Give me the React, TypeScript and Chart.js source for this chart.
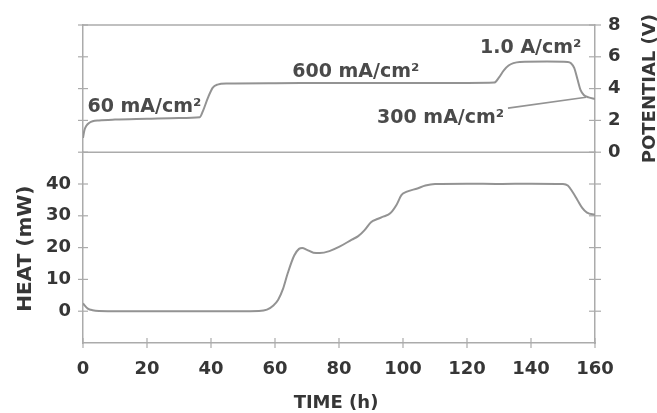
import { useEffect, useRef } from 'react';
import { Chart, registerables } from 'chart.js';

Chart.register(...registerables);

// ---- data ----
const timeTicks = [0, 20, 40, 60, 80, 100, 120, 140, 160];
const heatTicks = [0, 10, 20, 30, 40];
const potTicks = [0, 2, 4, 6, 8];

const potTime = [0, 0.4, 1, 2, 3, 5, 10, 20, 30, 36.5, 37.5, 39, 40.5, 42, 45, 60, 80, 100, 120, 128.5, 130, 131.5, 133, 134.5, 136.5, 145, 151.5, 152.5, 153.5, 154.5, 155.5, 156.5, 158, 160];
const potV = [0.9, 1.35, 1.65, 1.85, 1.95, 2.0, 2.05, 2.1, 2.15, 2.2, 2.6, 3.4, 4.05, 4.25, 4.32, 4.34, 4.35, 4.35, 4.36, 4.38, 4.7, 5.15, 5.45, 5.6, 5.68, 5.7, 5.68, 5.6, 5.3, 4.6, 3.9, 3.6, 3.45, 3.35];

const heatTime = [0, 0.5, 1.5, 3, 5, 20, 40, 55, 57.5, 59.5, 61, 62.5, 64, 66, 67.5, 68.5, 70, 72, 74, 77, 80, 84, 86, 88, 90, 92, 94, 96, 98, 99.5, 101, 104.5, 107, 110, 120, 130, 140, 150, 151.5, 153, 154.5, 156, 157.5, 160];
const heatMW = [2.5, 1.8, 0.8, 0.3, 0.1, 0, 0, 0.1, 0.5, 1.8, 3.6, 7, 12, 17.5, 19.6, 19.9, 19.3, 18.4, 18.3, 18.9, 20.2, 22.5, 23.6, 25.5, 28, 29, 29.8, 30.8, 33.5, 36.5, 37.5, 38.6, 39.5, 40, 40.1, 40, 40.1, 40, 39.5, 37.5, 35, 32.5, 31, 30.3];

const noteTexts = ['60 mA/cm²', '600 mA/cm²', '1.0 A/cm²', '300 mA/cm²'];
const noteTimes = [1.4, 65.4, 124.1, 91.9];
const noteVolts = [2.52, 4.72, 6.24, 1.83];
const leaderTimes = [132.8, 157.2];
const leaderVolts = [2.77, 3.46];

const xTitle = 'TIME (h)';
const heatTitle = 'HEAT (mW)';
const potTitle = 'POTENTIAL (V)';

// ---- styles ----
const FONT = '"DejaVu Sans", sans-serif';
const TEXT = '#363636';
const NOTE = '#4a4a4a';
const AXIS = '#ababab';
const CURVE = '#939393';

const framePlugin = {
  id: 'frame',
  beforeDatasetsDraw(chart: any) {
    const { ctx, chartArea: a, scales } = chart;
    const x = scales.x, yH = scales.yHeat, yHR = scales.yHeatR, yP = scales.yPot, yPL = scales.yPotL;
    const line = (x1: number, y1: number, x2: number, y2: number) => {
      ctx.beginPath(); ctx.moveTo(x1, y1); ctx.lineTo(x2, y2); ctx.stroke();
    };
    ctx.save();
    ctx.strokeStyle = AXIS;
    ctx.lineWidth = 1.5;
    const yTop = yP.getPixelForValue(8);
    const yMid = yP.getPixelForValue(0);
    line(a.left, yTop, a.right, yTop);
    line(a.left, yMid, a.right, yMid);
    ctx.lineWidth = 1.2;
    heatTicks.forEach((v) => {
      const py = yH.getPixelForValue(v);
      line(a.left - 5, py, a.left + 5, py);
      const pr = yHR.getPixelForValue(v);
      line(a.right - 6, pr, a.right + 6, pr);
    });
    potTicks.forEach((v) => {
      const py = yPL.getPixelForValue(v);
      line(a.left - 5, py, a.left + 5, py);
      const pr = yP.getPixelForValue(v);
      line(a.right - 6, pr, a.right + 6, pr);
    });
    timeTicks.forEach((v) => {
      const px = x.getPixelForValue(v);
      line(px, a.bottom - 5, px, a.bottom + 5);
    });
    ctx.restore();
  },
  afterDatasetsDraw(chart: any) {
    const { ctx, chartArea: a, scales } = chart;
    const x = scales.x, yH = scales.yHeat, yP = scales.yPot;
    ctx.save();
    // annotations
    ctx.fillStyle = NOTE;
    ctx.font = `bold 19px ${FONT}`;
    ctx.textAlign = 'left';
    ctx.textBaseline = 'alphabetic';
    noteTexts.forEach((t, i) => {
      ctx.fillText(t, x.getPixelForValue(noteTimes[i]), yP.getPixelForValue(noteVolts[i]));
    });
    ctx.strokeStyle = CURVE;
    ctx.lineWidth = 1.6;
    ctx.beginPath();
    ctx.moveTo(x.getPixelForValue(leaderTimes[0]), yP.getPixelForValue(leaderVolts[0]));
    ctx.lineTo(x.getPixelForValue(leaderTimes[1]), yP.getPixelForValue(leaderVolts[1]));
    ctx.stroke();

    // titles
    ctx.fillStyle = TEXT;
    ctx.font = `bold 18px ${FONT}`;
    ctx.textAlign = 'center';
    ctx.fillText(xTitle, (a.left + a.right) / 2 - 3, 408);

    ctx.font = `bold 20px ${FONT}`;
    ctx.save();
    ctx.translate(30.5, (yH.top + yH.bottom) / 2 + 1);
    ctx.rotate(-Math.PI / 2);
    ctx.fillText(heatTitle, 0, 0);
    ctx.restore();

    ctx.font = `bold 18px ${FONT}`;
    ctx.save();
    ctx.translate(655, (yP.top + yP.bottom) / 2);
    ctx.rotate(-Math.PI / 2);
    ctx.fillText(potTitle, 0, 0);
    ctx.restore();
    ctx.restore();
  },
};

export default function App() {
  const ref = useRef<HTMLCanvasElement>(null);
  useEffect(() => {
    if (!ref.current) return;
    const tickFont = { family: FONT, size: 18, weight: 'bold' as const };
    const chart = new Chart(ref.current, {
      type: 'line',
      data: {
        datasets: [
          {
            label: 'Potential',
            data: potTime.map((t, i) => ({ x: t, y: potV[i] })),
            xAxisID: 'x',
            yAxisID: 'yPot',
            borderColor: CURVE,
            borderWidth: 2,
            pointRadius: 0,
            cubicInterpolationMode: 'monotone',
            fill: false,
          },
          {
            label: 'Heat',
            data: heatTime.map((t, i) => ({ x: t, y: heatMW[i] })),
            xAxisID: 'x',
            yAxisID: 'yHeat',
            borderColor: CURVE,
            borderWidth: 2,
            pointRadius: 0,
            cubicInterpolationMode: 'monotone',
            fill: false,
          },
        ],
      },
      options: {
        responsive: false,
        animation: false,
        devicePixelRatio: 1,
        layout: { padding: { top: 25, left: 0, right: 0, bottom: 0 } },
        plugins: { legend: { display: false }, tooltip: { enabled: false } },
        scales: {
          x: {
            type: 'linear',
            position: 'bottom',
            min: 0,
            max: 160,
            afterBuildTicks: (s: any) => { s.ticks = timeTicks.map((v) => ({ value: v })); },
            ticks: { font: tickFont, color: TEXT, padding: 16, maxRotation: 0, autoSkip: false },
            grid: { display: false, drawTicks: false },
            border: { color: AXIS, width: 1.5 },
            afterFit: (s: any) => { s.height = 70; },
          },
          yPotL: {
            type: 'linear',
            position: 'left',
            stack: 'L',
            stackWeight: 2,
            weight: 1,
            min: 0,
            max: 8,
            ticks: { display: false },
            grid: { display: false, drawTicks: false },
            border: { color: AXIS, width: 1.5 },
            afterFit: (s: any) => { s.width = 83; },
          },
          yHeat: {
            type: 'linear',
            position: 'left',
            stack: 'L',
            stackWeight: 3,
            weight: 0,
            min: -10,
            max: 50,
            afterBuildTicks: (s: any) => { s.ticks = heatTicks.map((v) => ({ value: v })); },
            ticks: { font: tickFont, color: TEXT, padding: 12, autoSkip: false },
            grid: { display: false, drawTicks: false },
            border: { color: AXIS, width: 1.5 },
            afterFit: (s: any) => { s.width = 83; },
          },
          yPot: {
            type: 'linear',
            position: 'right',
            stack: 'R',
            stackWeight: 2,
            weight: 0,
            min: 0,
            max: 8,
            afterBuildTicks: (s: any) => { s.ticks = potTicks.map((v) => ({ value: v })); },
            ticks: { font: tickFont, color: TEXT, padding: 13, autoSkip: false },
            grid: { display: false, drawTicks: false },
            border: { color: AXIS, width: 1.5 },
            afterFit: (s: any) => { s.width = 62; },
          },
          yHeatR: {
            type: 'linear',
            position: 'right',
            stack: 'R',
            stackWeight: 3,
            weight: 1,
            min: -10,
            max: 50,
            ticks: { display: false },
            grid: { display: false, drawTicks: false },
            border: { color: AXIS, width: 1.5 },
            afterFit: (s: any) => { s.width = 62; },
          },
        },
      } as any,
      plugins: [framePlugin],
    });
    return () => chart.destroy();
  }, []);

  return (
    <div style={{ position: 'fixed', left: 0, top: 0, width: 657, height: 413, background: '#fff' }}>
      <canvas ref={ref} width={657} height={413} style={{ display: 'block', width: 657, height: 413 }} />
    </div>
  );
}
